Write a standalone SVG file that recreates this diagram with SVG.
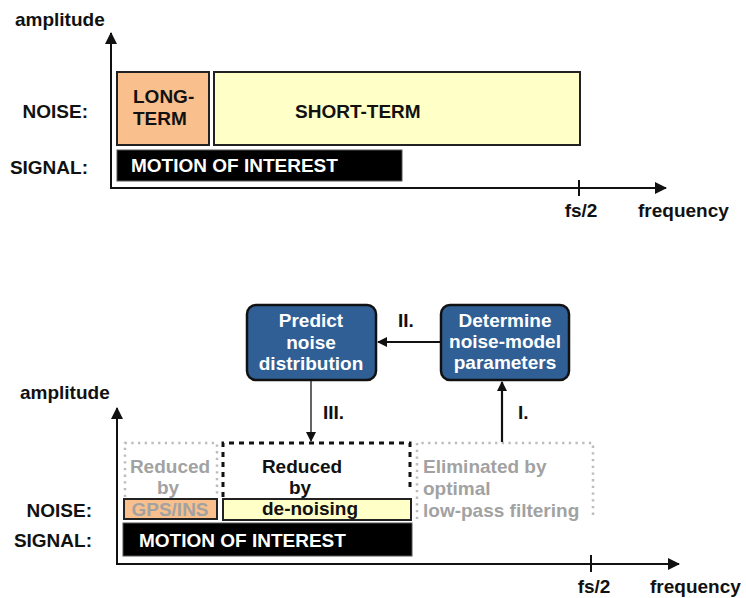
<svg xmlns="http://www.w3.org/2000/svg" width="746" height="598" viewBox="0 0 746 598">
<style>
text{font-family:"Liberation Sans",Arial,sans-serif;font-weight:bold;font-size:19px;fill:#111}
.w{fill:#fff}
.g{fill:#a2a2a2}
.m{text-anchor:middle}
.e{text-anchor:end}
.ax{stroke:#111;stroke-width:2;fill:none}
.box{stroke:#222;stroke-width:2}
.lt{fill:#f9c08e}
.st{fill:#ffffc8}
.sig{fill:#000;stroke:#555;stroke-width:1}
.blue{fill:#2f5f95;stroke:#111;stroke-width:2.5}
.dot{fill:none;stroke:#bcbcbc;stroke-width:2.5;stroke-dasharray:2.3 4.4}
.dash{fill:none;stroke:#111;stroke-width:3;stroke-dasharray:5 5}
</style>
<defs>
<marker id="ah" markerWidth="12" markerHeight="12" refX="11" refY="6" orient="auto" markerUnits="userSpaceOnUse">
<path d="M0,0 L12,6 L0,12 Z" fill="#111"/>
</marker>
<marker id="ahs" markerWidth="10" markerHeight="10" refX="9" refY="5" orient="auto" markerUnits="userSpaceOnUse">
<path d="M0,0 L10,5 L0,10 Z" fill="#111"/>
</marker>
</defs>

<!-- top chart -->
<g id="top-axes">
<text x="15" y="26">amplitude</text>
<path class="ax" d="M111,188 V33" marker-end="url(#ah)"/>
<path class="ax" d="M110,188 H666" marker-end="url(#ah)"/>
<path class="ax" d="M579,180 V196"/>
<text class="m" x="581" y="217">fs/2</text>
<text x="638" y="217">frequency</text>
<text class="e" x="88" y="118">NOISE:</text>
<text class="e" x="88" y="174">SIGNAL:</text>
</g>
<g id="top-long-term">
<rect class="box lt" x="117" y="72" width="92" height="73"/>
<text x="133" y="103">LONG-</text>
<text x="133" y="125">TERM</text>
</g>
<g id="top-short-term">
<rect class="box st" x="214" y="72" width="366" height="73"/>
<text x="295" y="118">SHORT-TERM</text>
</g>
<g id="top-signal">
<rect class="sig" x="117" y="150" width="285" height="31"/>
<text class="w" x="131" y="172">MOTION OF INTEREST</text>
</g>

<!-- bottom chart -->
<g id="bottom-axes">
<text x="20" y="399">amplitude</text>
<path class="ax" d="M117,564 V408" marker-end="url(#ah)"/>
<path class="ax" d="M116,564 H679" marker-end="url(#ah)"/>
<path class="ax" d="M591,555 V572"/>
<text class="m" x="594" y="593">fs/2</text>
<text x="650" y="593">frequency</text>
<text class="e" x="92" y="517">NOISE:</text>
<text class="e" x="92" y="547">SIGNAL:</text>
</g>

<g id="predict">
<rect class="blue" x="247" y="305" width="129" height="75" rx="9"/>
<text class="w m" x="311" y="327">Predict</text>
<text class="w m" x="311" y="349">noise</text>
<text class="w m" x="311" y="370">distribution</text>
</g>
<g id="determine">
<rect class="blue" x="441" y="305" width="128" height="75" rx="9"/>
<text class="w m" x="505" y="327">Determine</text>
<text class="w m" x="505" y="348">noise-model</text>
<text class="w m" x="505" y="369">parameters</text>
</g>

<g id="gps-region">
<path class="dot" d="M125,497 V443 H217 V497"/>
<text class="g m" x="170" y="473">Reduced</text>
<text class="g m" x="168" y="494">by</text>
<rect class="box lt" x="124" y="499" width="93" height="20"/>
<text class="g m" x="170" y="516">GPS/INS</text>
</g>
<g id="denoise-region">
<path class="dash" d="M223,497 V443 H410 V492"/>
<text class="m" x="302" y="473">Reduced</text>
<text class="m" x="300" y="494">by</text>
<rect class="box st" x="223" y="499" width="188" height="21"/>
<text class="m" x="310" y="515">de-noising</text>
</g>
<g id="lowpass-region">
<path class="dot" d="M417,519 V443 H593 V519"/>
<text class="g" x="423" y="473">Eliminated by</text>
<text class="g" x="423" y="495">optimal</text>
<text class="g" x="423" y="517">low-pass filtering</text>
</g>
<g id="bottom-signal">
<rect class="sig" x="123" y="523" width="289" height="33"/>
<text class="w" x="139" y="547">MOTION OF INTEREST</text>
</g>

<g id="connectors">
<path d="M440,342 H378" stroke="#111" stroke-width="2" fill="none" marker-end="url(#ahs)"/>
<text x="398" y="327">II.</text>
<path d="M311,381 V441" stroke="#111" stroke-width="1.3" fill="none" marker-end="url(#ahs)"/>
<text x="323" y="419">III.</text>
<path d="M502,442 V382" stroke="#111" stroke-width="2.2" fill="none" marker-end="url(#ahs)"/>
<text x="518" y="419">I.</text>
</g>
</svg>
